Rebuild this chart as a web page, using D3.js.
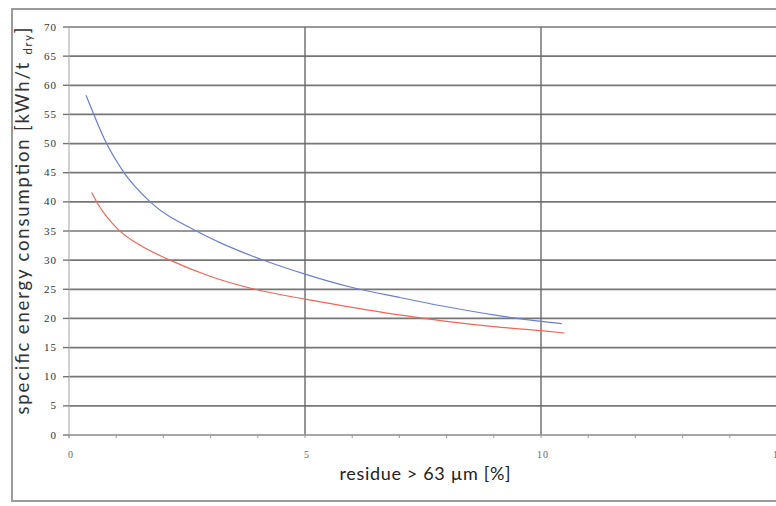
<!DOCTYPE html>
<html>
<head>
<meta charset="utf-8">
<script src="https://cdn.jsdelivr.net/npm/d3@7"></script>
<style>
  body { margin: 0; background: #fff; }
  svg { display: block; }
</style>
</head>
<body>
<svg id="chart" width="776" height="506"></svg>
<script>
// values
const blueSeries = [
  [0.36, 58.3], [0.5, 55.5], [0.76, 50.6], [1.15, 45.2], [1.72, 40], [2.7, 35],
  [3.2, 33.0], [4.08, 30.1], [5, 27.6], [6, 25.3], [7, 23.6], [8, 22.0],
  [9, 20.6], [10, 19.5], [10.44, 19.1]
];
const redSeries = [
  [0.48, 41.6], [0.6, 39.8], [1.05, 35.2], [1.5, 32.6], [2.14, 30], [3, 27.2],
  [3.94, 25], [5, 23.3], [6, 21.9], [7, 20.6], [8, 19.5], [9, 18.6],
  [10, 17.9], [10.5, 17.5]
];
const yTicks = d3.range(0, 71, 5);
const xMajor = [0, 5, 10, 15];
const xMinor = d3.range(0, 16, 1);

const svg = d3.select("#chart");

// outer frame (runs off the right edge like the scan)
svg.append("rect")
  .attr("x", 12).attr("y", 9)
  .attr("width", 800).attr("height", 492)
  .attr("fill", "none").attr("stroke", "#9a9a9a").attr("stroke-width", 2);

const x = d3.scaleLinear().domain([0, 15]).range([69, 777]);
const y = d3.scaleLinear().domain([0, 70]).range([435, 27]);

// horizontal grid
svg.append("g").selectAll("line")
  .data(yTicks.filter(d => d > 0))
  .join("line")
    .attr("x1", x(0)).attr("x2", 776)
    .attr("y1", d => y(d)).attr("y2", d => y(d))
    .attr("stroke", "#767676").attr("stroke-width", 1.7);

// vertical grid
svg.append("g").selectAll("line")
  .data(xMajor.filter(d => d > 0))
  .join("line")
    .attr("x1", d => x(d)).attr("x2", d => x(d))
    .attr("y1", y(70)).attr("y2", y(0))
    .attr("stroke", "#6a6a6a").attr("stroke-width", 1.4);

// y axis line
svg.append("line")
  .attr("x1", x(0)).attr("x2", x(0)).attr("y1", y(70)).attr("y2", y(0) + 3)
  .attr("stroke", "#b5b5b5").attr("stroke-width", 1.2);

// y ticks + labels
const yAxis = svg.append("g");
yAxis.selectAll("line")
  .data(yTicks)
  .join("line")
    .attr("x1", x(0) - 6).attr("x2", x(0))
    .attr("y1", d => y(d)).attr("y2", d => y(d))
    .attr("stroke", "#767676").attr("stroke-width", 1.4);
yAxis.selectAll("text")
  .data(yTicks)
  .join("text")
    .attr("x", 57).attr("y", d => y(d) + 3.5)
    .attr("text-anchor", "end")
    .attr("font-family", "Liberation Serif, serif")
    .attr("font-size", 11)
    .attr("letter-spacing", 1)
    .attr("fill", "#333")
    .text(d => d);

// x axis line
svg.append("line")
  .attr("x1", x(0)).attr("x2", 776).attr("y1", y(0)).attr("y2", y(0))
  .attr("stroke", "#8a8a8a").attr("stroke-width", 1.6);

// x ticks
svg.append("g").selectAll("line")
  .data(xMinor)
  .join("line")
    .attr("x1", d => x(d)).attr("x2", d => x(d))
    .attr("y1", y(0) - 1).attr("y2", y(0) + 3)
    .attr("stroke", "#999").attr("stroke-width", 1);

svg.append("g").selectAll("text")
  .data(xMajor)
  .join("text")
    .attr("x", d => x(d) + 2).attr("y", 458)
    .attr("text-anchor", "middle")
    .attr("font-family", "Liberation Serif, serif")
    .attr("font-size", 10)
    .attr("letter-spacing", 1)
    .attr("fill", "#666")
    .text(d => d);

// curves
const line = d3.line()
  .x(d => x(d[0]))
  .y(d => y(d[1]))
  .curve(d3.curveMonotoneX);

svg.append("path")
  .datum(blueSeries)
  .attr("d", line)
  .attr("fill", "none").attr("stroke", "#6b7fd4").attr("stroke-width", 1.2);

svg.append("path")
  .datum(redSeries)
  .attr("d", line)
  .attr("fill", "none").attr("stroke", "#ef6657").attr("stroke-width", 1.2);

// axis titles
svg.append("text")
  .attr("x", 425).attr("y", 480)
  .attr("text-anchor", "middle")
  .attr("font-family", "Lato, sans-serif")
  .attr("font-size", 18)
  .attr("fill", "#222")
  .attr("textLength", 171).attr("lengthAdjust", "spacing")
  .text("residue > 63 µm [%]");

const yt = svg.append("text")
  .attr("transform", "translate(29,221) rotate(-90)")
  .attr("text-anchor", "middle")
  .attr("font-family", "Lato, sans-serif")
  .attr("font-size", 18.5)
  .attr("fill", "#333")
  .attr("textLength", 387).attr("lengthAdjust", "spacing");
yt.append("tspan").text("specific energy consumption  [kWh/t ");
yt.append("tspan").attr("font-size", 11).attr("dy", 3).text("dry");
yt.append("tspan").attr("dy", -3).text("]");
</script>
</body>
</html>
